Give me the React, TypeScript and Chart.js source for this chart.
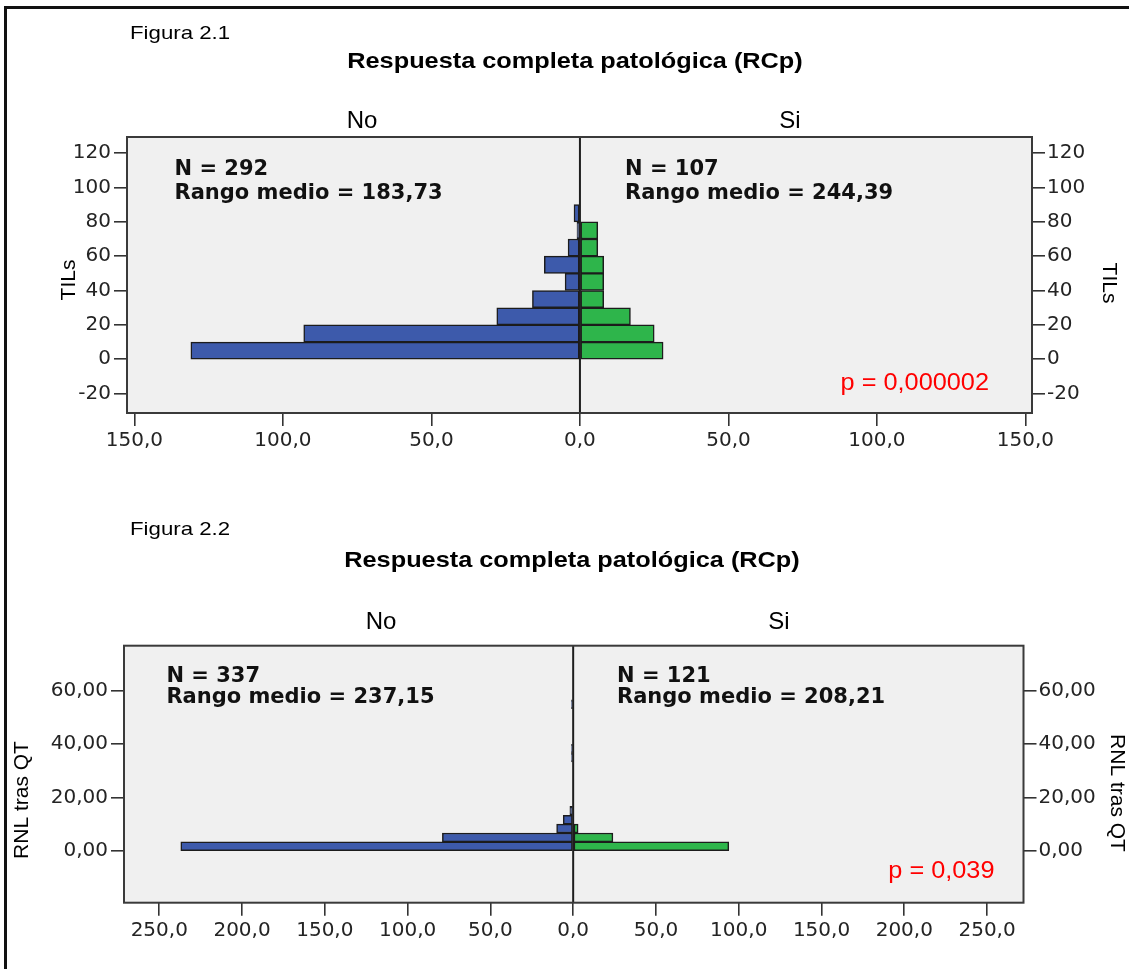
import React, { useEffect, useRef } from 'react';
import { Chart, registerables } from 'chart.js';

Chart.register(...registerables);

// ---------- Figura 2.1 : TILs by RCp ----------
const tilBinStart = [0, 10, 20, 30, 40, 50, 60, 70, 80];
const tilBinWidth = 10;
const tilNo = [131, 93, 28, 16, 5, 12, 4, 1, 2];
const tilSi = [28, 25, 17, 8, 8, 8, 6, 6, 0];
const tilYTicks = [-20, 0, 20, 40, 60, 80, 100, 120];
const tilXTicks = [-150, -100, -50, 0, 50, 100, 150];

// ---------- Figura 2.2 : RNL tras QT by RCp ----------
const rnlBinStart = [0, 10 / 3, 20 / 3, 10, 40 / 3, 100 / 3, 110 / 3, 160 / 3];
const rnlBinWidth = 10 / 3;
const rnlNo = [237, 79, 10, 6, 2, 1, 1, 1];
const rnlSi = [94, 24, 3, 0, 0, 0, 0, 0];
const rnlYTicks = [0, 20, 40, 60];
const rnlXTicks = [-250, -200, -150, -100, -50, 0, 50, 100, 150, 200, 250];

const BLUE = '#3d5aab';
const GREEN = '#2eb54b';
const SANS = '"Liberation Sans", Arial, Helvetica, sans-serif';
const DEJAVU = '"DejaVu Sans", Verdana, sans-serif';

interface Panel {
  fig: string;
  title: string;
  yTitle: string;
  nNo: string;
  rankNo: string;
  nSi: string;
  rankSi: string;
  pText: string;
  binStart: number[];
  binWidth: number;
  no: number[];
  si: number[];
  yTicks: number[];
  xTicks: number[];
  yMin: number;
  yMax: number;
  xMin: number;
  xMax: number;
  yDec: number;
}

const panel1: Panel = {
  fig: 'Figura 2.1',
  title: 'Respuesta completa patológica (RCp)',
  yTitle: 'TILs',
  nNo: 'N = 292',
  rankNo: 'Rango medio = 183,73',
  nSi: 'N = 107',
  rankSi: 'Rango medio = 244,39',
  pText: 'p = 0,000002',
  binStart: tilBinStart,
  binWidth: tilBinWidth,
  no: tilNo,
  si: tilSi,
  yTicks: tilYTicks,
  xTicks: tilXTicks,
  yMin: -31.3,
  yMax: 129.4,
  xMin: -152.5,
  xMax: 152.2,
  yDec: 0,
};

const panel2: Panel = {
  fig: 'Figura 2.2',
  title: 'Respuesta completa patológica (RCp)',
  yTitle: 'RNL tras QT',
  nNo: 'N = 337',
  rankNo: 'Rango medio = 237,15',
  nSi: 'N = 121',
  rankSi: 'Rango medio = 208,21',
  pText: 'p = 0,039',
  binStart: rnlBinStart,
  binWidth: rnlBinWidth,
  no: rnlNo,
  si: rnlSi,
  yTicks: rnlYTicks,
  xTicks: rnlXTicks,
  yMin: -19.5,
  yMax: 77,
  xMin: -271.3,
  xMax: 272,
  yDec: 2,
};

interface Layout {
  canvasTop: number;
  height: number;
  left: number;
  rightW: number;
  top: number;
  xAxisH: number;
  figX: number; figY: number;
  titleX: number; titleY: number;
  noX: number; siX: number; grpY: number;
  nNoX: number; nSiX: number; nY: number; rankY: number;
  pX: number; pY: number;
  yTL: [number, number]; yTR: [number, number];
}

const layout1: Layout = {
  canvasTop: 0, height: 480, left: 127, rightW: 97, top: 137, xAxisH: 67,
  figX: 130, figY: 39, titleX: 575, titleY: 68,
  noX: 362, siX: 790, grpY: 128,
  nNoX: 174.5, nSiX: 625, nY: 175, rankY: 198.5,
  pX: 989, pY: 390,
  yTL: [69, 280], yTR: [1109, 283],
};

const layout2: Layout = {
  canvasTop: 480, height: 489, left: 124, rightW: 105.5, top: 165.7, xAxisH: 66.3,
  figX: 130, figY: 535 - 480, titleX: 572, titleY: 567 - 480,
  noX: 381, siX: 779, grpY: 629 - 480,
  nNoX: 166.4, nSiX: 617, nY: 681.7 - 480, rankY: 703.3 - 480,
  pX: 994.5, pY: 878.3 - 480,
  yTL: [22, 800 - 480], yTR: [1117, 793 - 480],
};

function drawText(ctx: CanvasRenderingContext2D, text: string, x: number, y: number,
  font: string, color: string, align: CanvasTextAlign, sx = 1, rot = 0) {
  ctx.save();
  ctx.font = font;
  ctx.fillStyle = color;
  ctx.translate(x, y);
  if (rot) {
    ctx.rotate(rot);
    ctx.textBaseline = 'middle';
  } else {
    ctx.textBaseline = 'alphabetic';
  }
  ctx.scale(sx, 1);
  ctx.textAlign = align;
  ctx.fillText(text, 0, 0);
  ctx.restore();
}

function makeDecor(p: Panel, l: Layout) {
  return {
    id: 'decor',
    beforeDraw(chart: any) {
      const { ctx, chartArea: a } = chart;
      ctx.save();
      ctx.fillStyle = '#f0f0f0';
      ctx.fillRect(a.left, a.top, a.right - a.left, a.bottom - a.top);
      ctx.restore();
    },
    afterDatasetsDraw(chart: any) {
      const { ctx, chartArea: a } = chart;
      const x0 = chart.scales.x.getPixelForValue(0);
      ctx.save();
      ctx.strokeStyle = '#1e1e1e';
      ctx.lineWidth = 2;
      ctx.beginPath();
      ctx.moveTo(x0, a.top);
      ctx.lineTo(x0, a.bottom);
      ctx.stroke();
      ctx.strokeStyle = '#3a3a3a';
      ctx.lineWidth = 2;
      ctx.strokeRect(a.left, a.top, a.right - a.left, a.bottom - a.top);
      ctx.restore();
    },
    afterDraw(chart: any) {
      const ctx = chart.ctx as CanvasRenderingContext2D;
      drawText(ctx, p.fig, l.figX, l.figY, `19px ${SANS}`, '#000', 'left', 1.17);
      drawText(ctx, p.title, l.titleX, l.titleY, `bold 22px ${SANS}`, '#000', 'center', 1.15);
      drawText(ctx, 'No', l.noX, l.grpY, `24px ${SANS}`, '#000', 'center');
      drawText(ctx, 'Si', l.siX, l.grpY, `24px ${SANS}`, '#000', 'center');
      const nf = `bold 21px ${DEJAVU}`;
      drawText(ctx, p.nNo, l.nNoX, l.nY, nf, '#111', 'left');
      drawText(ctx, p.rankNo, l.nNoX, l.rankY, nf, '#111', 'left');
      drawText(ctx, p.nSi, l.nSiX, l.nY, nf, '#111', 'left');
      drawText(ctx, p.rankSi, l.nSiX, l.rankY, nf, '#111', 'left');
      drawText(ctx, p.pText, l.pX, l.pY, `23px ${SANS}`, '#ff0000', 'right', 1.1);
      drawText(ctx, p.yTitle, l.yTL[0], l.yTL[1], `21px ${SANS}`, '#000', 'center', 1, -Math.PI / 2);
      drawText(ctx, p.yTitle, l.yTR[0], l.yTR[1], `21px ${SANS}`, '#000', 'center', 1, Math.PI / 2);
    },
  };
}

function makeChart(canvas: HTMLCanvasElement, p: Panel, l: Layout) {
  const half = p.binWidth / 2;
  const noData = p.binStart
    .map((b, i) => ({ y: b + half, x: [-p.no[i], 0], c: p.no[i] }))
    .filter((d) => d.c > 0);
  const siData = p.binStart
    .map((b, i) => ({ y: b + half, x: [0, p.si[i]], c: p.si[i] }))
    .filter((d) => d.c > 0);

  const tickFont = { family: DEJAVU, size: 20 };
  const tickColor = '#242424';
  const grid = {
    display: true,
    drawOnChartArea: false,
    drawTicks: true,
    tickLength: 13,
    color: '#333',
    lineWidth: 1.6,
    offset: false,
  };
  const yLabel = (v: any) => Number(v).toFixed(p.yDec).replace('.', ',');

  return new Chart(canvas, {
    type: 'bar',
    data: {
      datasets: [
        {
          label: 'No',
          data: noData as any,
          backgroundColor: BLUE,
        },
        {
          label: 'Si',
          data: siData as any,
          backgroundColor: GREEN,
        },
      ],
    },
    options: {
      indexAxis: 'y',
      animation: false,
      responsive: false,
      maintainAspectRatio: false,
      layout: { padding: { top: l.top, left: 0, right: 0, bottom: 0 } },
      datasets: {
        bar: {
          grouped: false,
          barPercentage: 1,
          categoryPercentage: 1,
          borderSkipped: false,
          borderWidth: 1.5,
          borderColor: '#1c1c1c',
        },
      } as any,
      plugins: {
        legend: { display: false },
        tooltip: { enabled: false },
        title: { display: false },
      },
      scales: {
        x: {
          type: 'linear',
          position: 'bottom',
          offset: false,
          beginAtZero: false,
          min: p.xMin,
          max: p.xMax,
          afterBuildTicks: (s: any) => {
            s.ticks = p.xTicks.map((v) => ({ value: v }));
          },
          afterFit: (s: any) => {
            s.height = l.xAxisH;
          },
          grid,
          border: { display: false },
          ticks: {
            autoSkip: false,
            maxRotation: 0,
            padding: 3,
            color: tickColor,
            font: tickFont,
            callback: (v: any) => Math.abs(Number(v)).toFixed(1).replace('.', ','),
          },
        },
        y: {
          type: 'linear',
          position: 'left',
          offset: false,
          min: p.yMin,
          max: p.yMax,
          afterBuildTicks: (s: any) => {
            s.ticks = p.yTicks.map((v) => ({ value: v }));
          },
          afterFit: (s: any) => {
            s.width = l.left;
          },
          grid,
          border: { display: false },
          ticks: {
            autoSkip: false,
            padding: 3,
            color: tickColor,
            font: tickFont,
            callback: yLabel,
          },
        },
        y2: {
          type: 'linear',
          position: 'right',
          offset: false,
          min: p.yMin,
          max: p.yMax,
          afterBuildTicks: (s: any) => {
            s.ticks = p.yTicks.map((v) => ({ value: v }));
          },
          afterFit: (s: any) => {
            s.width = l.rightW;
          },
          grid,
          border: { display: false },
          ticks: {
            autoSkip: false,
            padding: 2,
            color: tickColor,
            font: tickFont,
            callback: yLabel,
          },
        },
      } as any,
    },
    plugins: [makeDecor(p, l)],
  });
}

export default function App() {
  const c1 = useRef<HTMLCanvasElement>(null);
  const c2 = useRef<HTMLCanvasElement>(null);

  useEffect(() => {
    const ch1 = makeChart(c1.current!, panel1, layout1);
    const ch2 = makeChart(c2.current!, panel2, layout2);
    return () => {
      ch1.destroy();
      ch2.destroy();
    };
  }, []);

  return (
    <div
      style={{
        position: 'fixed',
        left: 0,
        top: 0,
        width: 1129,
        height: 969,
        background: '#fff',
        overflow: 'hidden',
      }}
    >
      <div
        style={{
          position: 'absolute',
          left: 4,
          top: 6,
          width: 1200,
          height: 1100,
          border: '3px solid #111',
          boxSizing: 'border-box',
        }}
      />
      <canvas
        ref={c1}
        width={1129}
        height={layout1.height}
        style={{ position: 'absolute', left: 0, top: layout1.canvasTop, width: 1129, height: layout1.height }}
      />
      <canvas
        ref={c2}
        width={1129}
        height={layout2.height}
        style={{ position: 'absolute', left: 0, top: layout2.canvasTop, width: 1129, height: layout2.height }}
      />
    </div>
  );
}
